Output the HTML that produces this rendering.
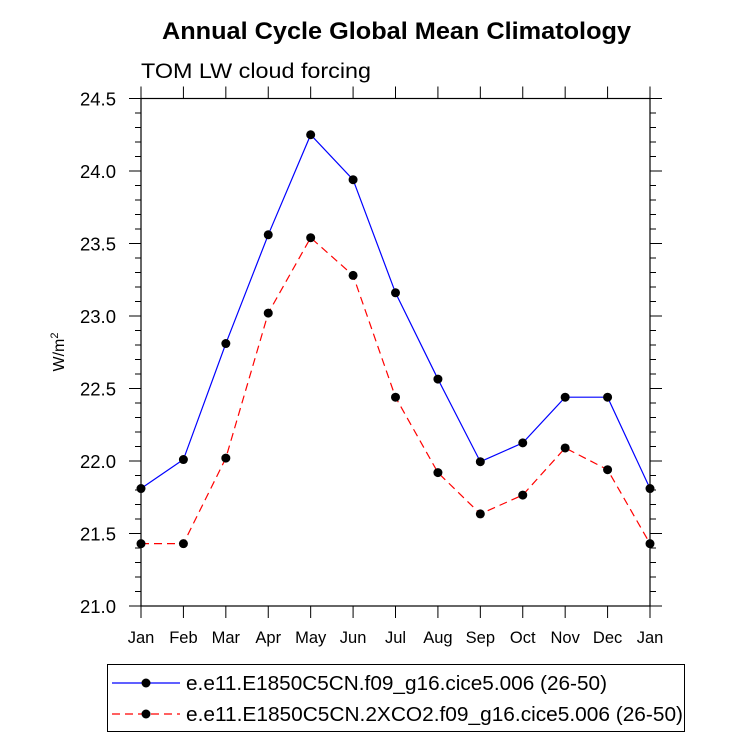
<!DOCTYPE html>
<html><head><meta charset="utf-8"><style>
body{margin:0;background:#fff;}
svg{display:block;font-family:"Liberation Sans",Arial,sans-serif;}
</style></head><body>
<svg id="chart" width="733" height="739">
<text x="162" y="39" textLength="469" lengthAdjust="spacingAndGlyphs" font-size="24" font-weight="bold">Annual Cycle Global Mean Climatology</text>
<text x="141" y="78" textLength="230" lengthAdjust="spacingAndGlyphs" font-size="21">TOM LW cloud forcing</text>
<text transform="translate(64,352) rotate(-90)" text-anchor="middle" font-size="16">W/m<tspan dy="-6" font-size="11">2</tspan></text>
<g id="axes"></g>
<g id="series"></g>
<g>
<rect x="107.5" y="664.5" width="577" height="67" fill="#fff" stroke="#000" stroke-width="1"/>
<g>
<line x1="112" y1="683" x2="180" y2="683" stroke="#0000ff" stroke-width="1.2"/>
<circle cx="146" cy="683" r="4.5" fill="#000"/>
<text x="186" y="690" textLength="421" lengthAdjust="spacingAndGlyphs" font-size="20">e.e11.E1850C5CN.f09_g16.cice5.006 (26-50)</text>
</g>
<g>
<line x1="112" y1="714" x2="180" y2="714" stroke="#ff0000" stroke-width="1.2" stroke-dasharray="8,5"/>
<circle cx="146" cy="714" r="4.5" fill="#000"/>
<text x="186" y="721" textLength="497" lengthAdjust="spacingAndGlyphs" font-size="20">e.e11.E1850C5CN.2XCO2.f09_g16.cice5.006 (26-50)</text>
</g>
</g>
</svg>
<script>
const months = ["Jan","Feb","Mar","Apr","May","Jun","Jul","Aug","Sep","Oct","Nov","Dec","Jan"];
const controlValues = [21.81,22.01,22.81,23.56,24.25,23.94,23.16,22.565,21.995,22.125,22.44,22.44,21.81];
const co2Values = [21.43,21.43,22.02,23.02,23.54,23.28,22.44,21.92,21.635,21.765,22.09,21.94,21.43];
const yTicks = [21.0,21.5,22.0,22.5,23.0,23.5,24.0,24.5];
const yTickLabels = ["21.0","21.5","22.0","22.5","23.0","23.5","24.0","24.5"];

const L=141,R=650,T=98.5,B=606, yMin=21.0, yMax=24.5;
const xs=i=>L+(R-L)*i/(months.length-1);
const ys=v=>B-(v-yMin)/(yMax-yMin)*(B-T);
const NS="http://www.w3.org/2000/svg";
function mk(tag,attrs,parent){const e=document.createElementNS(NS,tag);for(const k in attrs)e.setAttribute(k,attrs[k]);parent.appendChild(e);return e;}
const ax=document.getElementById('axes');
const frame=mk('rect',{x:L,y:T,width:R-L,height:B-T,fill:'none',stroke:'#000','stroke-width':1.2},ax);


for(let v=yMin;v<=yMax+1e-6;v+=0.1){
  const y=ys(v); const major=Math.abs(v*2-Math.round(v*2))<1e-6; const len=major?12:6;
  mk('line',{x1:L-len,y1:y,x2:L,y2:y,stroke:'#000','stroke-width':1},ax);
  mk('line',{x1:R,y1:y,x2:R+len,y2:y,stroke:'#000','stroke-width':1},ax);
}
yTicks.forEach((v,i)=>{
  const t=mk('text',{x:L-25,y:ys(v)+7,'text-anchor':'end','font-size':18.5},ax);
  t.textContent=yTickLabels[i];
  
  
});
months.forEach((m,i)=>{
  const x=xs(i);
  mk('line',{x1:x,y1:B,x2:x,y2:B+12,stroke:'#000','stroke-width':1},ax);
  mk('line',{x1:x,y1:T-12,x2:x,y2:T,stroke:'#000','stroke-width':1},ax);
  const t=mk('text',{x:x,y:B+37,'text-anchor':'middle','font-size':16.5},ax);
  t.textContent=m;
  
  
});
const sg=document.getElementById('series');
function drawSeries(vals,color,dash,name){
  const g=mk('g',{},sg);
  
  
  const pts=vals.map((v,i)=>xs(i)+','+ys(v)).join(' ');
  const attrs={points:pts,fill:'none',stroke:color,'stroke-width':1.2};
  if(dash)attrs['stroke-dasharray']=dash;
  mk('polyline',attrs,g);
  vals.forEach((v,i)=>{
    const c=mk('circle',{cx:xs(i),cy:ys(v),r:4.5,fill:'#000'},g);
    
    
  });
}
drawSeries(controlValues,'#0000ff',null,'control-series');
drawSeries(co2Values,'#ff0000','8,5','2xco2-series');
</script>
</body></html>
